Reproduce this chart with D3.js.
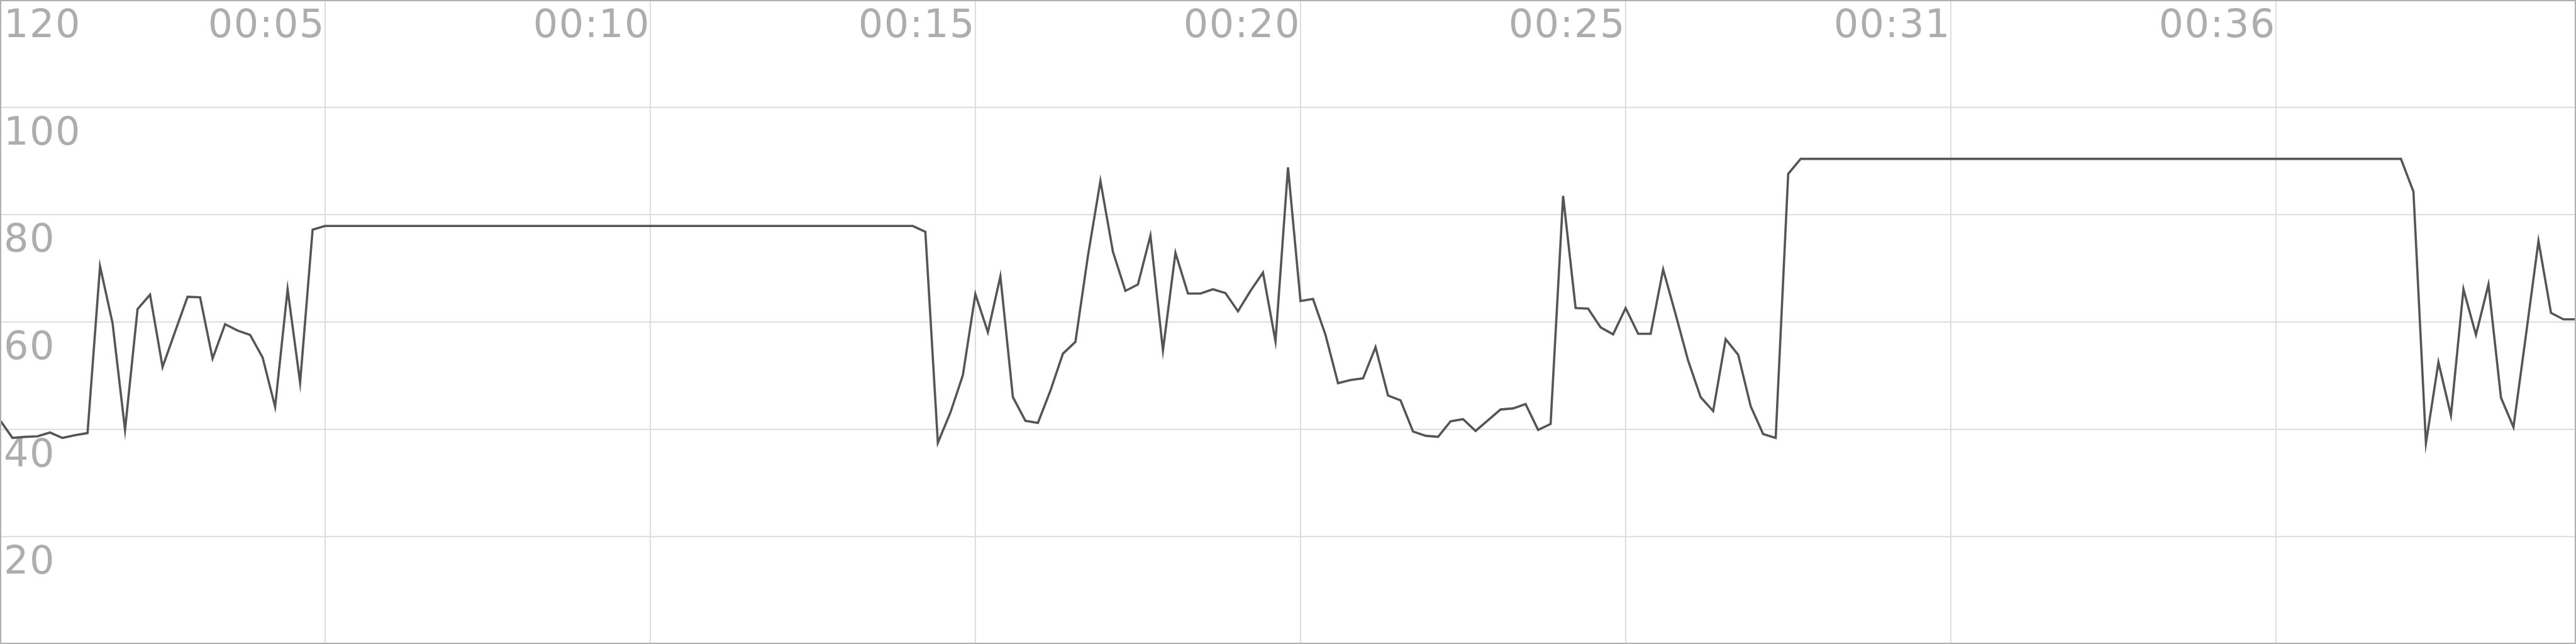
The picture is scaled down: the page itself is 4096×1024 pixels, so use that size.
<!DOCTYPE html>
<html>
<head>
<meta charset="utf-8">
<script src="https://cdn.jsdelivr.net/npm/d3@7"></script>
<style>
  html, body { margin: 0; padding: 0; background: #fff; }
  svg { display: block; }
</style>
</head>
<body>
<svg id="chart" width="4096" height="1024"></svg>
<script>
// ---- data ----
const values = [
  41.7, 38.4, 38.6, 38.7, 39.4, 38.4, 38.9, 39.3, 70.4, 59.8,
  39.9, 62.4, 65.1, 51.6, 58.2, 64.7, 64.6, 53.2, 59.6, 58.4,
  57.6, 53.4, 44.2, 66.1, 48.7, 77.2,
  77.9, 77.9, 77.9, 77.9, 77.9, 77.9, 77.9, 77.9, 77.9, 77.9,
  77.9, 77.9, 77.9, 77.9, 77.9, 77.9, 77.9, 77.9, 77.9, 77.9,
  77.9, 77.9, 77.9, 77.9, 77.9, 77.9, 77.9, 77.9, 77.9, 77.9,
  77.9, 77.9, 77.9, 77.9, 77.9, 77.9, 77.9, 77.9, 77.9, 77.9,
  77.9, 77.9, 77.9, 77.9, 77.9, 77.9, 77.9, 77.9,
  76.8, 37.5, 43.1, 50.1, 65.2, 58.1, 68.5, 46.0, 41.6, 41.2,
  47.2, 54.1, 56.3, 72.3, 86.3, 73.1, 65.8, 67.0, 76.1, 54.7,
  72.9, 65.3, 65.3, 66.1, 65.4, 62.0, 65.8, 69.2, 56.4, 88.8,
  63.9, 64.3, 57.6, 48.6, 49.2, 49.5, 55.3, 46.3, 45.4, 39.6,
  38.8, 38.6, 41.5, 41.9, 39.7, 41.7, 43.7, 43.9, 44.7, 39.9,
  41.0, 83.5, 62.6, 62.5, 59.0, 57.7, 62.6, 57.8, 57.8, 69.8,
  61.4, 52.8, 46.0, 43.4, 56.8, 53.9, 44.3, 39.1, 38.4, 87.6,
  90.4, 90.4, 90.4, 90.4, 90.4, 90.4, 90.4, 90.4, 90.4, 90.4,
  90.4, 90.4, 90.4, 90.4, 90.4, 90.4, 90.4, 90.4, 90.4, 90.4,
  90.4, 90.4, 90.4, 90.4, 90.4, 90.4, 90.4, 90.4, 90.4, 90.4,
  90.4, 90.4, 90.4, 90.4, 90.4, 90.4, 90.4, 90.4, 90.4, 90.4,
  90.4, 90.4, 90.4, 90.4, 90.4, 90.4, 90.4, 90.4, 90.4,
  84.3, 37.4, 52.5, 42.6, 66.1, 57.6, 67.0, 45.9, 40.4, 57.6,
  75.1, 61.7, 60.5, 60.5
];
const timeTickIndex = [26, 52, 78, 104, 130, 156, 182];
const timeTickLabels = ["00:05", "00:10", "00:15", "00:20", "00:25", "00:31", "00:36"];
const valueTicks = [20, 40, 60, 80, 100, 120];

// ---- layout ----
const W = 4096, H = 1024;
const svg = d3.select("#chart");

const x = d3.scaleLinear().domain([0, values.length - 1]).range([0, W]);
const y = d3.scaleLinear().domain([0, 120]).range([H, 0]);

svg.append("rect").attr("width", W).attr("height", H).attr("fill", "#fff");

// horizontal grid lines
svg.append("g")
  .selectAll("line")
  .data(valueTicks.filter(v => v < 120))
  .join("line")
  .attr("x1", 0).attr("x2", W)
  .attr("y1", d => y(d)).attr("y2", d => y(d))
  .attr("stroke", "#dcdcdc").attr("stroke-width", 2);

// vertical grid lines
svg.append("g")
  .selectAll("line")
  .data(timeTickIndex)
  .join("line")
  .attr("x1", d => x(d)).attr("x2", d => x(d))
  .attr("y1", 0).attr("y2", H)
  .attr("stroke", "#dcdcdc").attr("stroke-width", 2);

const fontFamily = "'DejaVu Sans', 'Liberation Sans', sans-serif";

// value labels
svg.append("g")
  .selectAll("text")
  .data(valueTicks)
  .join("text")
  .attr("x", 6)
  .attr("y", d => y(d) + 59)
  .attr("font-family", fontFamily)
  .attr("font-size", 62)
  .attr("letter-spacing", 1.5)
  .attr("fill", "#adadad")
  .text(d => d);

// time labels
svg.append("g")
  .selectAll("text")
  .data(timeTickIndex)
  .join("text")
  .attr("x", d => x(d))
  .attr("y", 59)
  .attr("text-anchor", "end")
  .attr("font-family", fontFamily)
  .attr("font-size", 62)
  .attr("letter-spacing", 1.5)
  .attr("fill", "#adadad")
  .text((d, i) => timeTickLabels[i]);

// series line
const line = d3.line().x((d, i) => x(i)).y(d => y(d));
svg.append("path")
  .datum(values)
  .attr("d", line)
  .attr("fill", "none")
  .attr("stroke", "#555")
  .attr("stroke-width", 3.6)
  .attr("stroke-linejoin", "miter")
  .attr("stroke-miterlimit", 12);

// outer border
svg.append("rect")
  .attr("x", 1).attr("y", 1)
  .attr("width", W - 2).attr("height", H - 2)
  .attr("fill", "none")
  .attr("stroke", "#b0b0b0")
  .attr("stroke-width", 2);
</script>
</body>
</html>
